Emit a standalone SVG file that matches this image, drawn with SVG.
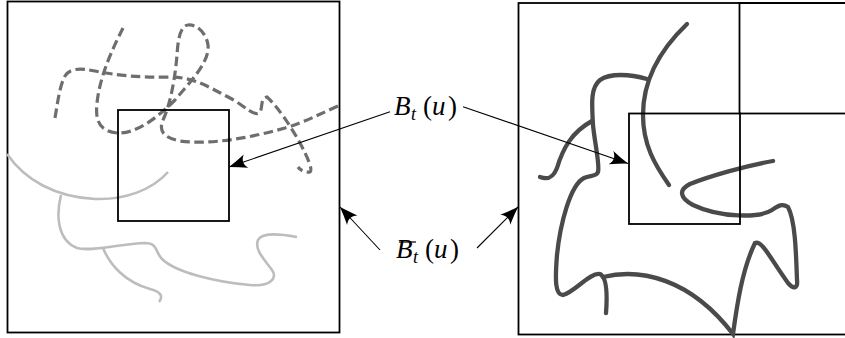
<svg xmlns="http://www.w3.org/2000/svg" width="845" height="338" viewBox="0 0 845 338">
<style>
.box{fill:none;stroke:#000;stroke-width:1.8}
.dash{fill:none;stroke:#6e6e6e;stroke-width:3.2;stroke-dasharray:9.5 4.5}
.light{fill:none;stroke:#bdbdbd;stroke-width:2.6}
.dark{fill:none;stroke:#4a4a4a;stroke-width:4.3;stroke-linecap:round}
.conn{fill:none;stroke:#000;stroke-width:1.1}
.lbl{font-family:"Liberation Serif","Times New Roman",serif;font-size:27px;fill:#000}
.it{font-style:italic}
</style>
<defs>
<marker id="ah" viewBox="-19 -8 20 16" markerWidth="20" markerHeight="16" refX="0" refY="0" orient="auto" markerUnits="userSpaceOnUse">
<path d="M0,0 C-6,-2 -12,-4.5 -18,-7 C-14,-2.5 -14,2.5 -18,7 C-12,4.5 -6,2 0,0 Z" fill="#000"/>
</marker>
</defs>
<g id="left-panel">
<rect class="box" x="7.5" y="1.5" width="332" height="331"/>
<path class="dash" d="M55,118 C58,100 60,85 65,76 C70,68 80,68 95,71 C115,75 140,78 170,77 C195,77 210,88 230,98 C245,106 255,118 260,112 C263,107 260,98 267,97 C277,106 290,125 300,143 C308,158 313,170 310,172 C305,173 300,170 298,167"/>
<path class="dash" d="M123,28 C113,48 100,75 97,103 C95,122 100,131 117,133 C135,134 155,120 175,100 C190,82 210,62 208,45 C206,32 196,24 188,25 C180,26 178,40 177,55 C175,80 170,105 163,120 C158,132 165,138 180,141 C210,145 250,138 285,128 C305,122 320,114 338,106"/>
<path class="light" d="M7,154 C25,180 55,197 95,199 C125,200 152,190 168,172"/>
<path class="light" d="M61,195 C56,215 57,240 77,248 C90,252 120,244 145,243 C158,243 155,252 162,259 C175,272 215,282 250,285 C270,287 278,278 272,270 C265,260 254,250 258,240 C262,232 280,234 297,237"/>
<path class="light" d="M103,248 C110,265 125,282 150,289 C162,292 163,297 159,302"/>
</g>
<g id="left-inner-box">
<rect class="box" x="118" y="110" width="111" height="111"/>
</g>
<g id="right-panel">
<rect class="box" x="518.5" y="3" width="336" height="331.5"/>
<rect class="box" x="739.5" y="3" width="111" height="110.5"/>
<path class="dark" d="M687,24 C665,45 643,75 643,115 C643,145 655,165 669,185"/>
<path class="dark" d="M540,177 C548,180 553,178 557,168 C563,148 572,132 592,121"/>
<path class="dark" d="M647,79 C630,74 610,73 600,80 C590,88 592,105 593,125 C595,145 600,165 598,172 C596,177 590,175 584,178 C570,185 560,225 557,255 C555,280 555,295 563,295 C575,292 590,272 600,274 C608,278 607,300 606,313"/>
<path class="dark" d="M603,277 C640,268 690,278 733,334 C737,305 742,270 755,243 C762,240 770,258 788,283 C794,290 798,288 797,280 C796,250 795,220 788,207 C782,203 778,206 772,210 C760,218 720,218 693,205 C680,198 678,190 690,184 C710,176 745,166 773,161"/>
</g>
<g id="right-inner-box">
<rect class="box" x="629" y="113.5" width="111" height="110.5"/>
</g>
<g id="connectors">
<line class="conn" x1="390" y1="111.7" x2="229" y2="167" marker-end="url(#ah)"/>
<line class="conn" x1="463" y1="106.7" x2="628" y2="163.5" marker-end="url(#ah)"/>
<line class="conn" x1="380" y1="250" x2="340" y2="207" marker-end="url(#ah)"/>
<line class="conn" x1="477" y1="248" x2="518" y2="207" marker-end="url(#ah)"/>
</g>
<g id="label-B">
<text class="lbl" y="114.5"><tspan class="it" x="394">B</tspan><tspan class="it" x="411" dy="5" font-size="18">t</tspan><tspan x="423" dy="-5">(</tspan><tspan class="it" x="432">u</tspan><tspan x="448">)</tspan></text>
</g>
<g id="label-Bbar">
<line x1="399" y1="242" x2="416" y2="242" stroke="#000" stroke-width="1.2"/>
<text class="lbl" y="258"><tspan class="it" x="396">B</tspan><tspan class="it" x="413" dy="5" font-size="18">t</tspan><tspan x="425" dy="-5">(</tspan><tspan class="it" x="434">u</tspan><tspan x="450">)</tspan></text>
</g>
</svg>
